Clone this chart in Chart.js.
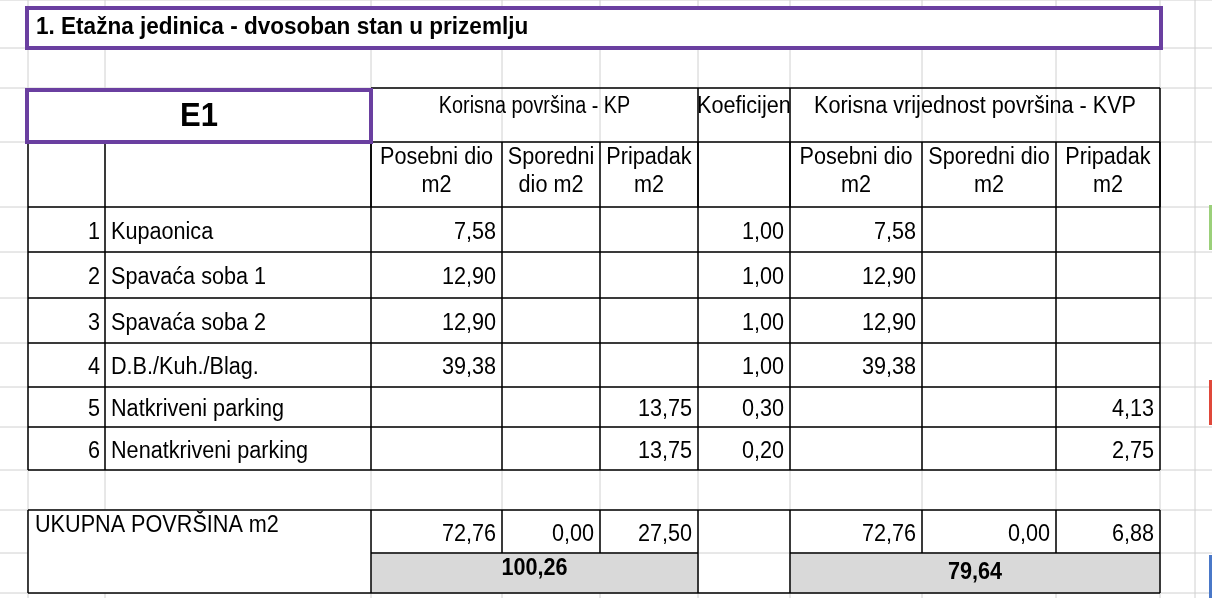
<!DOCTYPE html>
<html><head><meta charset="utf-8">
<script src="https://cdn.jsdelivr.net/npm/chart.js@4.4.0/dist/chart.umd.min.js"></script>
<style>html,body{margin:0;padding:0;background:#fff}#wrap{width:1212px;height:598px}</style>
</head><body><div id="wrap"><canvas id="c"></canvas></div>
<script>
// Data
const title = '1. Etažna jedinica - dvosoban stan u prizemlju';
const unitName = 'E1';
const groupHeaders = ['Korisna površina - KP', 'Koeficijen', 'Korisna vrijednost površina - KVP'];
const subHeaders = ['Posebni dio\nm2', 'Sporedni\ndio m2', 'Pripadak\nm2', '', 'Posebni dio\nm2', 'Sporedni dio\nm2', 'Pripadak\nm2'];
const rowNums = ['1', '2', '3', '4', '5', '6'];
const rooms = ['Kupaonica', 'Spavaća soba 1', 'Spavaća soba 2', 'D.B./Kuh./Blag.', 'Natkriveni parking', 'Nenatkriveni parking'];
const posebni = ['7,58', '12,90', '12,90', '39,38', '', ''];
const sporedni = ['', '', '', '', '', ''];
const pripadak = ['', '', '', '', '13,75', '13,75'];
const koef = ['1,00', '1,00', '1,00', '1,00', '0,30', '0,20'];
const kvpPosebni = ['7,58', '12,90', '12,90', '39,38', '', ''];
const kvpSporedni = ['', '', '', '', '', ''];
const kvpPripadak = ['', '', '', '', '4,13', '2,75'];
const totalLabel = 'UKUPNA POVRŠINA m2';
const totalsKP = ['72,76', '0,00', '27,50'];
const totalsKVP = ['72,76', '0,00', '6,88'];
const sumKP = '100,26';
const sumKVP = '79,64';

// Layout (in scale units = px)
const X = [28, 105, 371, 502, 600, 698, 790, 922, 1056, 1160];
const Y = [48, 88, 142, 207, 252, 298, 343, 387, 427, 470, 510, 553, 593];
const FONT = "'Liberation Sans', Arial, sans-serif";
const SQ = 0.94; // horizontal squeeze to mimic a narrow font

const tablePlugin = {
  id: 'table',
  afterDraw(chart) {
    const ctx = chart.ctx, sx = chart.scales.x, sy = chart.scales.y;
    const px = v => sx.getPixelForValue(v), py = v => sy.getPixelForValue(v);
    const line = (x1, y1, x2, y2, col, w) => {
      ctx.beginPath(); ctx.strokeStyle = col; ctx.lineWidth = w;
      ctx.moveTo(px(x1), py(y1)); ctx.lineTo(px(x2), py(y2)); ctx.stroke();
    };
    const box = (x1, y1, x2, y2, col, w) => {
      ctx.strokeStyle = col; ctx.lineWidth = w;
      ctx.strokeRect(px(x1), py(y1), px(x2) - px(x1), py(y2) - py(y1));
    };
    const text = (s, x, y, align, font, sq) => {
      ctx.font = font || '23px ' + FONT; ctx.fillStyle = '#000';
      ctx.textAlign = align; ctx.textBaseline = 'middle';
      s.split('\n').forEach((ln, i, a) => {
        ctx.save();
        ctx.translate(px(x), py(y + (i - (a.length - 1) / 2) * 28));
        ctx.scale(sq || SQ, 1);
        ctx.fillText(ln, 0, 0);
        ctx.restore();
      });
    };
    const grey = '#d0d0d0', blk = '#000';
    ctx.save();
    // light spreadsheet grid
    const gx = X.concat([1195]);
    gx.forEach(x => line(x, 0, x, 598, grey, 1));
    [0].concat(Y).forEach(y => line(0, y, 1212, y, grey, 1));
    // grey fills for sums
    ctx.fillStyle = '#d9d9d9';
    ctx.fillRect(px(X[2]), py(Y[11]), px(X[5]) - px(X[2]), py(Y[12]) - py(Y[11]));
    ctx.fillRect(px(X[6]), py(Y[11]), px(X[9]) - px(X[6]), py(Y[12]) - py(Y[11]));
    ctx.fillStyle = '#fff';
    ctx.fillRect(px(X[0]), py(Y[0]) - 40, px(1162) - px(X[0]), 40);
    ctx.fillRect(px(X[0]), py(Y[1]), px(X[2]) - px(X[0]), py(Y[2]) - py(Y[1]));
    ctx.fillRect(px(X[0]), py(Y[10]), px(X[2]) - px(X[0]), py(Y[12]) - py(Y[10]));
    // black borders: header group row
    [X[2], X[5], X[6], X[9]].forEach(x => line(x, Y[1], x, Y[3], blk, 1.5));
    line(X[2], Y[1], X[9], Y[1], blk, 1.5);
    line(X[0], Y[2], X[9], Y[2], blk, 1.5);
    // sub header & data rows
    for (let r = 2; r <= 8; r++) line(X[0], Y[r + 1], X[9], Y[r + 1], blk, 1.5);
    X.forEach(x => line(x, Y[2], x, Y[9], blk, 1.5));
    // totals
    line(X[0], Y[10], X[9], Y[10], blk, 1.5);
    line(X[2], Y[11], X[5], Y[11], blk, 1.5);
    line(X[6], Y[11], X[9], Y[11], blk, 1.5);
    line(X[0], Y[12], X[9], Y[12], blk, 1.5);
    [X[0], X[2], X[3], X[4], X[5], X[6], X[7], X[8], X[9]].forEach(x => line(x, Y[10], x, Y[11], blk, 1.5));
    [X[0], X[2], X[5], X[6], X[9]].forEach(x => line(x, Y[11], x, Y[12], blk, 1.5));
    // purple boxes
    box(27, 8, 1161, 48, '#6a3fa0', 4);
    box(27, 90, 371, 142, '#6a3fa0', 4);
    // coloured edge marks
    ctx.fillStyle = '#9bd07a'; ctx.fillRect(px(1209), py(205), 3, py(250) - py(205));
    ctx.fillStyle = '#e0483a'; ctx.fillRect(px(1209), py(380), 3, py(425) - py(380));
    ctx.fillStyle = '#4a78c8'; ctx.fillRect(px(1209), py(555), 3, py(598) - py(555));
    // texts
    text(title, 36, 28, 'left', 'bold 23px ' + FONT, 0.98);
    text(unitName, 199, 117, 'center', 'bold 33px ' + FONT);
    text(groupHeaders[0], (X[2] + X[5]) / 2, 107, 'center', null, 0.86);
    ctx.save();
    ctx.beginPath(); ctx.rect(px(X[5]), py(Y[1]), px(X[6]) - px(X[5]), py(Y[2]) - py(Y[1])); ctx.clip();
    text(groupHeaders[1], 697, 107, 'left');
    ctx.restore();
    text(groupHeaders[2], (X[6] + X[9]) / 2, 107, 'center');
    subHeaders.forEach((s, i) => text(s, (X[i + 2] + X[i + 3]) / 2, 172, 'center'));
    const cols = [posebni, sporedni, pripadak, koef, kvpPosebni, kvpSporedni, kvpPripadak];
    rooms.forEach((room, r) => {
      const yc = (Y[r + 3] + Y[r + 4]) / 2 + 3;
      text(rowNums[r], X[1] - 5, yc, 'right');
      text(room, X[1] + 6, yc, 'left');
      cols.forEach((c, i) => { if (c[r]) text(c[r], X[i + 3] - 6, yc, 'right'); });
    });
    text(totalLabel, 35, 526, 'left');
    const ty = (Y[10] + Y[11]) / 2 + 3;
    totalsKP.forEach((v, i) => text(v, X[i + 3] - 6, ty, 'right'));
    totalsKVP.forEach((v, i) => text(v, X[i + 7] - 6, ty, 'right'));
    text(sumKP, (X[2] + X[5]) / 2, 569, 'center', 'bold 23px ' + FONT);
    text(sumKVP, (X[6] + X[9]) / 2, 573, 'center', 'bold 23px ' + FONT);
    ctx.restore();
  }
};

new Chart(document.getElementById('c'), {
  type: 'scatter',
  data: { datasets: [{ data: [], pointRadius: 0 }] },
  options: {
    responsive: true, maintainAspectRatio: false, animation: false,
    layout: { padding: 0 },
    plugins: { legend: { display: false }, tooltip: { enabled: false } },
    scales: {
      x: { type: 'linear', min: 0, max: 1212, display: false },
      y: { type: 'linear', min: 0, max: 598, reverse: true, display: false }
    }
  },
  plugins: [tablePlugin]
});
</script></body></html>
